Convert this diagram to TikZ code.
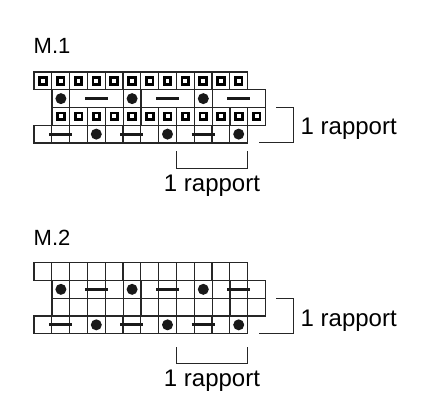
\documentclass[tikz,border=0pt]{standalone}
\usepackage{fontspec}
\setmainfont{Liberation Sans}
\begin{document}
\begin{tikzpicture}[x=1pt,y=-1pt,
  grid/.style={line width=1.1pt, draw=black!85},
  sqsym/.style={line width=2.7pt, draw=black},
  dotsym/.style={fill=black!90},
  dashsym/.style={line width=2.8pt, draw=black!90},
  bracket/.style={line width=1.1pt, draw=black!85},
  lbl/.style={font=\fontsize{24}{28}\selectfont, inner sep=0pt},
  ttl/.style={font=\fontsize{22}{26}\selectfont, inner sep=0pt}]
\useasboundingbox (0,0) rectangle (430,400);
\def\cw{17.8}
\def\rh{17.75}
% ---------- M.1 ----------
\node[ttl, anchor=base west] (t1) at (33.5,53.3) {M.1};
\begin{scope}[shift={(0,72)}]
  % row 0: squares
  \draw[grid] (34,0) rectangle ({34+12*\cw},\rh);
  \foreach \k in {1,...,11} \draw[grid] ({34+\k*\cw},0) -- ({34+\k*\cw},\rh);
  \foreach \k in {0,...,11} \draw[sqsym] ({34+(\k+0.5)*\cw-3.3},{0.5*\rh-3.3}) rectangle ++(6.6,6.6);
  % row 1: dots and dashes, lines around dots only
  \draw[grid] (52,\rh) rectangle ({52+12*\cw},{2*\rh});
  \foreach \k in {1,4,5,8,9} \draw[grid] ({52+\k*\cw},\rh) -- ({52+\k*\cw},{2*\rh});
  \foreach \k in {0,4,8} \fill[dotsym] ({52+(\k+0.5)*\cw},{1.5*\rh}) circle (5.5);
  \foreach \k in {2,6,10} \draw[dashsym] ({52+(\k+0.5)*\cw-11.5},{1.5*\rh}) -- ++(23,0);
  % row 2: squares
  \draw[grid] (52,{2*\rh}) rectangle ({52+12*\cw},{3*\rh});
  \foreach \k in {1,...,11} \draw[grid] ({52+\k*\cw},{2*\rh}) -- ({52+\k*\cw},{3*\rh});
  \foreach \k in {0,...,11} \draw[sqsym] ({52+(\k+0.5)*\cw-3.3},{2.5*\rh-3.3}) rectangle ++(6.6,6.6);
  % row 3: dashes and dots
  \draw[grid] (34,{3*\rh}) rectangle ({34+12*\cw},{4*\rh});
  \foreach \k in {1,...,11} \draw[grid] ({34+\k*\cw},{3*\rh}) -- ({34+\k*\cw},{4*\rh});
  \foreach \k in {3,7,11} \fill[dotsym] ({34+(\k+0.5)*\cw},{3.5*\rh}) circle (5.5);
  \foreach \k in {1,5,9} \draw[dashsym] ({34+(\k+0.5)*\cw-11.5},{3.5*\rh}) -- ++(23,0);
\end{scope}
\draw[bracket] (276,107.5) -- (293.3,107.5) -- (293.3,142.7) -- (259,142.7);
\node[lbl, anchor=base west] (r1) at (300.5,134.3) {1 rapport};
\draw[bracket] (176.4,151.3) -- (176.4,168.7) -- (247.6,168.7) -- (247.6,151.3);
\node[lbl, anchor=base] (b1) at (212,191.7) {1 rapport};
% ---------- M.2 ----------
\node[ttl, anchor=base west] (t2) at (33.5,245) {M.2};
\begin{scope}[shift={(0,262.7)}]
  \draw[grid] (34,0) rectangle ({34+12*\cw},\rh);
  \foreach \k in {1,...,11} \draw[grid] ({34+\k*\cw},0) -- ({34+\k*\cw},\rh);
  \draw[grid] (52,\rh) rectangle ({52+12*\cw},{3*\rh});
  \draw[grid] (52,{2*\rh}) -- ({52+12*\cw},{2*\rh});
  \foreach \k in {1,...,11} \draw[grid] ({52+\k*\cw},\rh) -- ({52+\k*\cw},{3*\rh});
  \foreach \k in {0,4,8} \fill[dotsym] ({52+(\k+0.5)*\cw},{1.5*\rh}) circle (5.5);
  \foreach \k in {2,6,10} \draw[dashsym] ({52+(\k+0.5)*\cw-11.5},{1.5*\rh}) -- ++(23,0);
  \draw[grid] (34,{3*\rh}) rectangle ({34+12*\cw},{4*\rh});
  \foreach \k in {1,...,11} \draw[grid] ({34+\k*\cw},{3*\rh}) -- ({34+\k*\cw},{4*\rh});
  \foreach \k in {3,7,11} \fill[dotsym] ({34+(\k+0.5)*\cw},{3.5*\rh}) circle (5.5);
  \foreach \k in {1,5,9} \draw[dashsym] ({34+(\k+0.5)*\cw-11.5},{3.5*\rh}) -- ++(23,0);
\end{scope}
\draw[bracket] (276,298.7) -- (293.3,298.7) -- (293.3,333.7) -- (259,333.7);
\node[lbl, anchor=base west] (r2) at (300.5,326) {1 rapport};
\draw[bracket] (176.4,347.3) -- (176.4,363.3) -- (247.6,363.3) -- (247.6,347.3);
\node[lbl, anchor=base] (b2) at (212,386) {1 rapport};
\end{tikzpicture}
\end{document}
